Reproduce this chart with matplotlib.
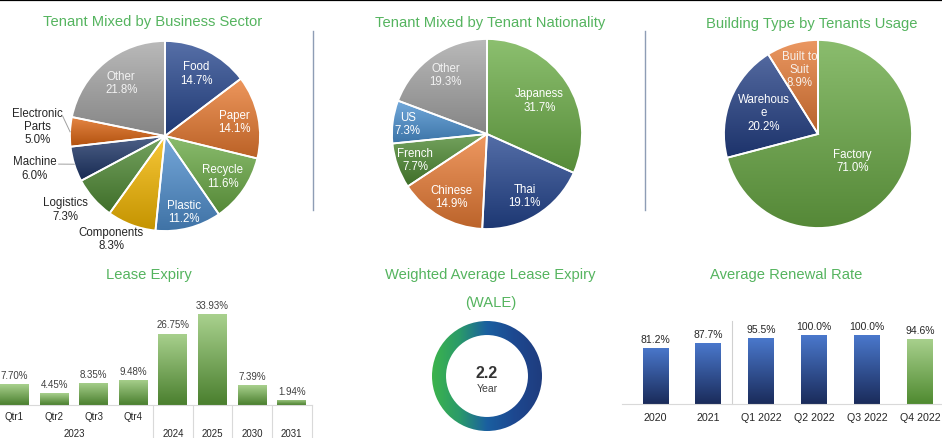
import numpy as np
import matplotlib
matplotlib.use("Agg")
import matplotlib.pyplot as plt
from matplotlib.colors import to_rgb
from matplotlib.patches import Wedge
from matplotlib.lines import Line2D

plt.rcParams['font.family'] = ['Liberation Sans', 'DejaVu Sans']

# ---------------- data ----------------
sector_labels = ['Food', 'Paper', 'Recycle', 'Plastic', 'Components', 'Logistics',
                 'Machine', 'Electronic\nParts', 'Other']
sector_values = [14.7, 14.1, 11.6, 11.2, 8.3, 7.3, 6.0, 5.0, 21.8]

nation_labels = ['Japaness', 'Thai', 'Chinese', 'French', 'US', 'Other']
nation_values = [31.7, 19.1, 14.9, 7.7, 7.3, 19.3]

usage_labels = ['Factory', 'Warehous\ne', 'Built to\nSuit']
usage_values = [71.0, 20.2, 8.9]

lease_cats = ['Qtr1', 'Qtr2', 'Qtr3', 'Qtr4', '2024', '2025', '2030', '2031']
lease_groups = ['2023', '2023', '2023', '2023', '2024', '2025', '2030', '2031']
lease_values = [7.70, 4.45, 8.35, 9.48, 26.75, 33.93, 7.39, 1.94]

wale_value = 2.2
wale_unit = 'Year'

renew_cats = ['2020', '2021', 'Q1 2022', 'Q2 2022', 'Q3 2022', 'Q4 2022']
renew_values = [81.2, 87.7, 95.5, 100.0, 100.0, 94.6]

# ---------------- styling ----------------
W, H = 942, 439
TITLE_C = '#55b45f'
TEXT_C = '#262626'
fig = plt.figure(figsize=(W / 100, H / 100), dpi=100)


def px_axes(left, top, width, height):
    return fig.add_axes([left / W, 1 - (top + height) / H, width / W, height / H])


def lighten(c, f):
    c = np.array(to_rgb(c))
    return c + (1 - c) * f


def darken(c, f):
    return np.array(to_rgb(c)) * (1 - f)


def grad_fill(ax, patch, top, bottom, extent, z, horizontal=False, stops=None):
    n = 256
    t = np.linspace(0, 1, n)
    if stops is None:
        cols = [np.array(top), np.array(bottom)]
    else:
        cols = [np.array(to_rgb(s)) for s in stops]
    pos = np.linspace(0, 1, len(cols))
    arr = np.stack([np.interp(t, pos, [c[k] for c in cols]) for k in range(3)], axis=-1)
    if horizontal:
        arr = arr[None, :, :]
    else:
        arr = arr[:, None, :]
    im = ax.imshow(arr, extent=extent, origin='upper', aspect='auto',
                   interpolation='bilinear', zorder=z)
    im.set_clip_path(patch)
    return im


def ftitle(x, y, s, size=10.6):
    fig.text(x / W, 1 - y / H, s, ha='center', va='center', color=TITLE_C, fontsize=size)


# top black rule
fig.add_artist(Line2D([0, 1], [1 - 1.2 / H, 1 - 1.2 / H], color='black', lw=1.6,
                      transform=fig.transFigure))
# separators
for xs in (313, 645):
    fig.add_artist(Line2D([xs / W, xs / W], [1 - 32 / H, 1 - 211 / H], color='#8e9db5',
                          lw=1.0, transform=fig.transFigure))


def draw_pie(cx, cy, R, values, labels, colors, dists, txtcols, leaders=None,
             dang=None, size=8.3):
    L = 1.7
    ax = px_axes(cx - L * R, cy - L * R, 2 * L * R, 2 * L * R)
    wedges, _ = ax.pie(values, colors=colors, startangle=90, counterclock=False,
                       radius=1, wedgeprops=dict(edgecolor='white', linewidth=1.3))
    for w, c in zip(wedges, colors):
        bb = w.get_path().get_extents()
        grad_fill(ax, w, lighten(c, 0.22), darken(c, 0.2),
                  (bb.x0, bb.x1, bb.y0, bb.y1), z=w.get_zorder() - 0.5)
        w.set_facecolor('none')
    ax.set_xlim(-L, L)
    ax.set_ylim(-L, L)
    ax.set_aspect('equal')
    ax.axis('off')
    for i, (w, lab, v) in enumerate(zip(wedges, labels, values)):
        mid = (w.theta1 + w.theta2) / 2
        a = np.deg2rad(mid + (dang[i] if dang else 0))
        d = dists[i]
        x, y = d * np.cos(a), d * np.sin(a)
        ax.text(x, y, f"{lab}\n{v:.1f}%", ha='center', va='center', fontsize=size,
                color=txtcols[i], linespacing=1.15)
        if leaders and leaders[i]:
            am = np.deg2rad(mid)
            ex, ey = 1.0 * np.cos(am), 1.0 * np.sin(am)
            sx, sy = leaders[i]
            ax.plot([x + sx, ex], [y + sy, ey], color='#a0a0a0', lw=0.7, clip_on=False)
    return ax


# ---------- pie 1 ----------
ftitle(153, 22, 'Tenant Mixed by Business Sector')
c1 = ['#27478f', '#e97a30', '#6aaa45', '#4f8fcf', '#f5b800', '#4f8a34', '#1c3466',
      '#dd6410', '#a6a6a6']
d1 = [0.74, 0.75, 0.74, 0.82, 1.22, 1.3, 1.41, 1.35, 0.73]
a1 = [0, 0, 0, 0, -7, -5, -3.5, -2, 0]
t1 = ['white'] * 4 + [TEXT_C] * 4 + ['#f2f2f2']
lead1 = [None] * 6 + [(0.25, 0.04), (0.27, 0.1), None]
draw_pie(165, 137, 95, sector_values, sector_labels, c1, d1, t1, lead1, a1)

# ---------- pie 2 ----------
ftitle(490, 23, 'Tenant Mixed by Tenant Nationality')
c2 = ['#6cae47', '#24458f', '#ea7c35', '#4e8a32', '#4a90d0', '#a6a6a6']
d2 = [0.66, 0.76, 0.76, 0.8, 0.84, 0.76]
t2 = ['white'] * 5 + ['#f2f2f2']
draw_pie(487, 135, 95, nation_values, nation_labels, c2, d2, t2)

# ---------- pie 3 ----------
ftitle(812, 24, 'Building Type by Tenants Usage')
c3 = ['#6aaa45', '#233f85', '#e57a35']
d3 = [0.46, 0.62, 0.72]
t3 = ['white', 'white', '#f7f0ea']
draw_pie(818, 135, 94, usage_values, usage_labels, c3, d3, t3)

# ---------- Lease expiry ----------
ftitle(149, 275, 'Lease Expiry')
ax = px_axes(0, 306, 311.5, 100)
x = np.arange(len(lease_cats))
bars = ax.bar(x, lease_values, width=0.73, color='none', edgecolor='none')
for b in bars:
    grad_fill(ax, b, to_rgb('#a9d18e'), to_rgb('#4a7f2e'),
              (b.get_x(), b.get_x() + b.get_width(), 0, b.get_height()), z=2)
    ax.annotate(f"{b.get_height():.2f}%", (b.get_x() + b.get_width() / 2, b.get_height()),
                xytext=(0, 3), textcoords='offset points', ha='center', va='bottom',
                fontsize=7, color='#404040')
ax.set_xlim(-0.366, len(lease_cats) - 0.5)
ax.set_ylim(0, 37.45)
ax.set_facecolor('none')
for s in ('top', 'right', 'left'):
    ax.spines[s].set_visible(False)
ax.spines['bottom'].set_color('#d9d9d9')
ax.set_xticks([])
ax.set_yticks([])
tr = ax.get_xaxis_transform()
for i, (c, g) in enumerate(zip(lease_cats, lease_groups)):
    if c != g:
        ax.text(i, -0.11, c, transform=tr, ha='center', va='center', fontsize=7, color=TEXT_C)
groups = []
for i, g in enumerate(lease_groups):
    if groups and groups[-1][0] == g:
        groups[-1][2] = i
    else:
        groups.append([g, i, i])
for g, i0, i1 in groups:
    ax.text((i0 + i1) / 2, -0.28, g, transform=tr, ha='center', va='center', fontsize=7,
            color=TEXT_C)
    ax.plot([i1 + 0.5, i1 + 0.5], [0, -0.34], transform=tr, color='#d9d9d9', lw=0.8,
            clip_on=False)

# ---------- WALE ----------
ftitle(490, 275, 'Weighted Average Lease Expiry')
ftitle(491, 303, '(WALE)')
R = 55
L = 1.05
axw = px_axes(487 - L * R, 377 - L * R, 2 * L * R, 2 * L * R)
ring = Wedge((0, 0), 1, 0, 360, width=0.255, facecolor='none', edgecolor='none')
axw.add_patch(ring)
grad_fill(axw, ring, None, None, (-1, 1, -1, 1), z=1, horizontal=True,
          stops=['#3cb44b', '#2a9a6a', '#1a5fa0', '#1d4890', '#1f3c7e'])
axw.set_xlim(-L, L)
axw.set_ylim(-L, L)
axw.set_aspect('equal')
axw.axis('off')
axw.text(0, 0.07, f"{wale_value}", ha='center', va='center', fontsize=11.5,
         fontweight='bold', color='#333333')
axw.text(0, -0.22, wale_unit, ha='center', va='center', fontsize=7.5, color='#404040')

# ---------- Renewal rate ----------
ftitle(786, 275, 'Average Renewal Rate')
ppp = 0.69  # px per percent
axr = px_axes(622, 325, 320, 80)
xr = np.arange(len(renew_cats))
rcols = [('#4a78cc', '#1a2b5a')] * 5 + [('#a9d18e', '#4f8a30')]
rb = axr.bar(xr, renew_values, width=0.49, color='none', edgecolor='none')
for b, (ct, cb) in zip(rb, rcols):
    grad_fill(axr, b, to_rgb(ct), to_rgb(cb),
              (b.get_x(), b.get_x() + b.get_width(), 0, b.get_height()), z=2)
    axr.annotate(f"{b.get_height():.1f}%", (b.get_x() + b.get_width() / 2, b.get_height()),
                 xytext=(0, 3), textcoords='offset points', ha='center', va='bottom',
                 fontsize=7.5, color=TEXT_C)
axr.set_xlim((622 - 655.5) / 52.9, (942 - 655.5) / 52.9)
axr.set_ylim(0, 80 / ppp)
axr.set_facecolor('none')
for s in ('top', 'right', 'left'):
    axr.spines[s].set_visible(False)
axr.spines['bottom'].set_color('#d9d9d9')
axr.set_yticks([])
axr.set_xticks(xr)
axr.set_xticklabels(renew_cats, fontsize=7.7, color=TEXT_C)
axr.tick_params(axis='x', length=0, pad=6)
axr.plot([1.45, 1.45], [0, 83 / ppp], color='#d0d0d0', lw=0.8, clip_on=False)

fig.savefig('out.png', dpi=100)
